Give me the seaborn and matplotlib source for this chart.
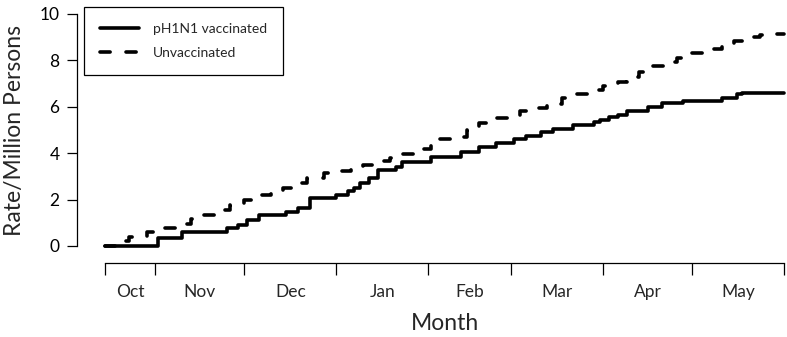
import numpy as np
import pandas as pd
import matplotlib
matplotlib.use("Agg")
import matplotlib.pyplot as plt
import seaborn as sns

# ---- data (days since Oct 15) ----
vacc_days = [0, 18, 26, 41, 45, 48, 52, 61, 65, 69, 78, 82, 84, 86, 89, 92, 98, 100,
             110, 120, 126, 132, 138, 142, 147, 151, 158, 165, 167, 170, 173, 176,
             183, 188, 195, 208, 213, 215, 229]
vacc_rate = [0, 0.33, 0.62, 0.76, 0.90, 1.12, 1.34, 1.48, 1.62, 2.05, 2.20, 2.35, 2.49,
             2.70, 2.92, 3.28, 3.42, 3.63, 3.85, 4.06, 4.28, 4.45, 4.60, 4.75, 4.93,
             5.03, 5.20, 5.35, 5.45, 5.55, 5.65, 5.80, 5.98, 6.15, 6.26, 6.37, 6.55,
             6.60, 6.60]
unvacc_days = [0, 4, 8, 14, 20, 24, 29, 33, 38, 42, 47, 51, 56, 60, 63, 68, 74, 78, 83,
               87, 92, 96, 100, 105, 110, 113, 117, 122, 126, 131, 136, 140, 144, 149,
               154, 158, 163, 168, 173, 176, 180, 184, 189, 193, 198, 203, 208, 212,
               216, 221, 225, 229]
unvacc_rate = [0, 0.20, 0.40, 0.60, 0.76, 0.95, 1.15, 1.35, 1.55, 1.78, 1.98, 2.20, 2.32,
               2.50, 2.73, 2.95, 3.13, 3.25, 3.35, 3.50, 3.65, 3.80, 3.97, 4.20, 4.43,
               4.60, 4.71, 5.00, 5.30, 5.50, 5.65, 5.80, 5.94, 6.10, 6.37, 6.55, 6.72,
               6.90, 7.05, 7.30, 7.50, 7.75, 7.94, 8.10, 8.30, 8.50, 8.66, 8.85, 9.02,
               9.10, 9.14, 9.14]
month_bounds = [0, 17, 47, 78, 109, 137, 168, 198, 229]
month_labels = ["Oct", "Nov", "Dec", "Jan", "Feb", "Mar", "Apr", "May"]
y_ticks = [0, 2, 4, 6, 8, 10]

sns.set_style("ticks")
plt.rcParams["font.family"] = ["Lato", "DejaVu Sans"]

W, H = 787, 337
fig = plt.figure(figsize=(W / 100, H / 100), dpi=100)
ax = fig.add_axes([105 / W, 1 - 246 / H, (784 - 105) / W, (246 - 14) / H])

df_v = pd.DataFrame({"day": vacc_days, "rate": vacc_rate})
df_u = pd.DataFrame({"day": unvacc_days, "rate": unvacc_rate})

sns.lineplot(data=df_v, x="day", y="rate", ax=ax, color="black", lw=2.6,
             drawstyle="steps-post", estimator=None, label="pH1N1 vaccinated",
             clip_on=False, solid_joinstyle="round", solid_capstyle="round")
sns.lineplot(data=df_u, x="day", y="rate", ax=ax, color="black", lw=2.6,
             drawstyle="steps-post", estimator=None, label="Unvaccinated",
             linestyle=(0, (2.8, 4.4)), dash_capstyle="round", clip_on=False)

ax.set_xlim(0, 229)
ax.set_ylim(0, 10)

for s in ["top", "right"]:
    ax.spines[s].set_visible(False)
ax.spines["left"].set_position(("outward", 20))
ax.spines["bottom"].set_position(("outward", 12.2))
ax.spines["left"].set_bounds(0, 10)
ax.spines["bottom"].set_bounds(0, 229)
for s in ["left", "bottom"]:
    ax.spines[s].set_linewidth(0.9)
    ax.spines[s].set_color("black")

ax.set_yticks(y_ticks)
ax.set_yticklabels([str(v) for v in y_ticks])
ax.tick_params(axis="y", length=7.2, width=0.9, pad=5.5, labelsize=12.5, colors="black")

ax.set_xticks(month_bounds)
ax.set_xticklabels([])
ax.tick_params(axis="x", which="major", length=8.5, width=0.9, colors="black")
mids = [(a + b) / 2 for a, b in zip(month_bounds[:-1], month_bounds[1:])]
ax.set_xticks(mids, minor=True)
ax.set_xticklabels(month_labels, minor=True)
ax.tick_params(axis="x", which="minor", length=0, pad=15, labelsize=12.5)

ax.set_xlabel("Month", fontsize=16.5, va="center")
ax.xaxis.set_label_coords(0.5, -0.335)
ax.set_ylabel("Rate/Million Persons", fontsize=16.5, va="center")
ax.yaxis.set_label_coords(-0.133, 0.5)

leg = ax.legend(loc="upper left", bbox_to_anchor=(84 / W, 1 - 7 / H),
                bbox_transform=fig.transFigure, borderaxespad=0, fontsize=10,
                frameon=True, fancybox=False, framealpha=1, edgecolor="black",
                handlelength=2.8, handletextpad=1.0, labelspacing=0.85,
                borderpad=1.15)
leg.get_frame().set_linewidth(0.9)

fig.savefig("out.png", dpi=100)
